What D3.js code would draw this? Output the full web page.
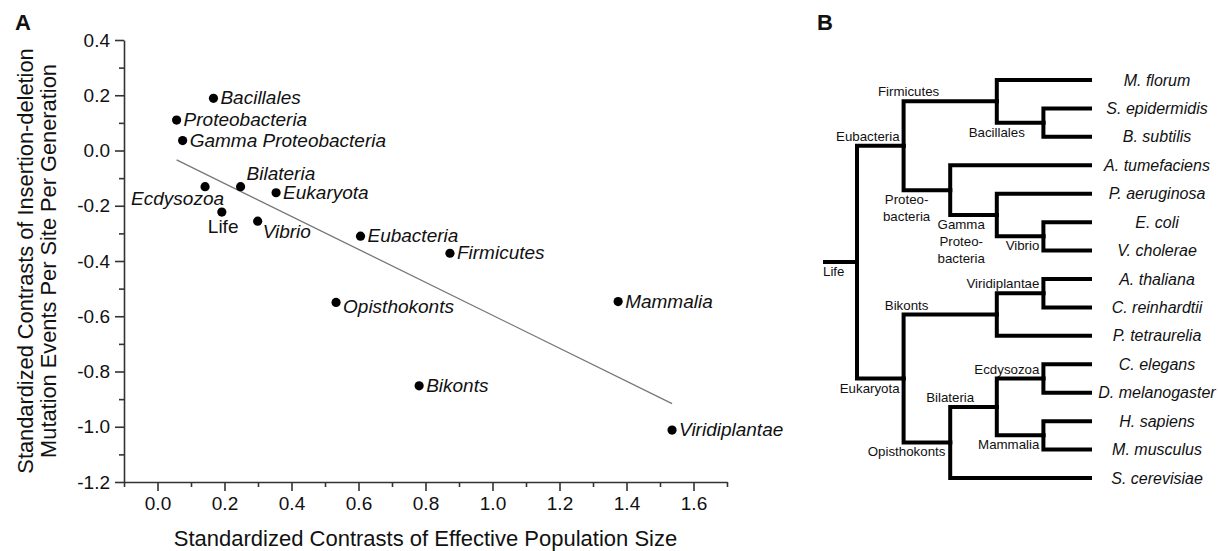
<!DOCTYPE html>
<html>
<head>
<meta charset="utf-8">
<script src="https://cdn.jsdelivr.net/npm/d3@7"></script>
<style>
  body { margin: 0; background: #fff; }
  svg { display: block; font-family: "Liberation Sans", Arial, sans-serif; }
</style>
</head>
<body>
<div id="chart"></div>
<script>
// Data

    // panel A: contrasts (x = effective population size, y = indel rate)
    var taxa = ["Bacillales", "Proteobacteria", "Gamma Proteobacteria", "Ecdysozoa", "Bilateria",
                "Eukaryota", "Life", "Vibrio", "Eubacteria", "Firmicutes",
                "Opisthokonts", "Mammalia", "Bikonts", "Viridiplantae"];
    var contrastNe    = [0.167, 0.057, 0.075, 0.142, 0.248, 0.354, 0.192, 0.299, 0.606, 0.873, 0.533, 1.375, 0.781, 1.536];
    var contrastIndel = [0.189, 0.110, 0.036, -0.131, -0.131, -0.153, -0.223, -0.256, -0.310, -0.372, -0.550, -0.547, -0.852, -1.012];

    var xTicks = [0.0, 0.2, 0.4, 0.6, 0.8, 1.0, 1.2, 1.4, 1.6];
    var yTicks = [0.4, 0.2, 0.0, -0.2, -0.4, -0.6, -0.8, -1.0, -1.2];

    // panel B: tree as [child, parent]
    var treeEdges = [
        ["Life", ""],
        ["Eubacteria", "Life"],
        ["Firmicutes", "Eubacteria"],
        ["M. florum", "Firmicutes"],
        ["Bacillales", "Firmicutes"],
        ["S. epidermidis", "Bacillales"],
        ["B. subtilis", "Bacillales"],
        ["Proteobacteria", "Eubacteria"],
        ["A. tumefaciens", "Proteobacteria"],
        ["Gamma Proteobacteria", "Proteobacteria"],
        ["P. aeruginosa", "Gamma Proteobacteria"],
        ["Vibrio", "Gamma Proteobacteria"],
        ["E. coli", "Vibrio"],
        ["V. cholerae", "Vibrio"],
        ["Eukaryota", "Life"],
        ["Bikonts", "Eukaryota"],
        ["Viridiplantae", "Bikonts"],
        ["A. thaliana", "Viridiplantae"],
        ["C. reinhardtii", "Viridiplantae"],
        ["P. tetraurelia", "Bikonts"],
        ["Opisthokonts", "Eukaryota"],
        ["Bilateria", "Opisthokonts"],
        ["Ecdysozoa", "Bilateria"],
        ["C. elegans", "Ecdysozoa"],
        ["D. melanogaster", "Ecdysozoa"],
        ["Mammalia", "Bilateria"],
        ["H. sapiens", "Mammalia"],
        ["M. musculus", "Mammalia"],
        ["S. cerevisiae", "Opisthokonts"]
    ];
    var nodeLabelLines = {
        "Proteobacteria": ["Proteo-", "bacteria"],
        "Gamma Proteobacteria": ["Gamma", "Proteo-", "bacteria"]
    };


// Layout (kept apart from the data)

    var svgWidth = 1219, svgHeight = 551;
    var textColor = "#111";

    // point label offsets, default is right of the dot
    var ptLabel = {
        "Ecdysozoa":    { dx: 19, dy: 18, anchor: "end" },
        "Life":         { dx: -14, dy: 21, upright: true },
        "Bilateria":    { dx: 6, dy: -7 },
        "Vibrio":       { dx: 5, dy: 17 },
        "Opisthokonts": { dx: 7, dy: 11 }
    };

    // tree label placement: "end" = right aligned before own vertical, "mid" = centred near parent vertical
    var treeLabel = {
        "Life":                 { mode: "start", side: "below" },
        "Eubacteria":           { mode: "end", side: "above" },
        "Firmicutes":           { mode: "mid", side: "above", dx: 5 },
        "Bacillales":           { mode: "mid", side: "below", dx: 0 },
        "Proteobacteria":       { mode: "mid", side: "below", dx: 3 },
        "Gamma Proteobacteria": { mode: "mid", side: "below", dx: 11 },
        "Vibrio":               { mode: "end", side: "below" },
        "Eukaryota":            { mode: "end", side: "below" },
        "Bikonts":              { mode: "mid", side: "above", dx: 3 },
        "Viridiplantae":        { mode: "end", side: "above" },
        "Opisthokonts":         { mode: "mid", side: "below", dx: 3 },
        "Bilateria":            { mode: "mid", side: "above", dx: 0 },
        "Ecdysozoa":            { mode: "end", side: "above" },
        "Mammalia":             { mode: "end", side: "below" }
    };


// Start of SVG

    var svg = d3.select("#chart")
        .append("svg")
            .attr("width", svgWidth)
            .attr("height", svgHeight);

    // panel letters
    svg.append("text").attr("x", 15).attr("y", 30).text("A")
        .attr("font-size", 22).attr("font-weight", "bold").attr("fill", textColor);
    svg.append("text").attr("x", 817).attr("y", 30).text("B")
        .attr("font-size", 22).attr("font-weight", "bold").attr("fill", textColor);


// Panel A

    var x = d3.scaleLinear().domain([-0.1, 1.7]).range([124, 727]);
    var y = d3.scaleLinear().domain([-1.2, 0.4]).range([482, 40]);

    var minorX = d3.range(-1, 18, 2).map(function(d) { return d / 10; });
    var minorY = d3.range(-11, 4, 2).map(function(d) { return d / 10; });

    var fmt = function(d) { return d.toFixed(1); };

    // X axis (major + minor)
    var gx = svg.append("g").attr("transform", "translate(0," + y(-1.2) + ")");
    gx.call(d3.axisBottom(x).tickValues(xTicks).tickFormat(fmt).tickSize(9).tickPadding(6).tickSizeOuter(0));
    gx.append("g").call(d3.axisBottom(x).tickValues(minorX).tickFormat("").tickSize(5).tickSizeOuter(0))
        .select(".domain").remove();

    // Y axis (major + minor)
    var gy = svg.append("g").attr("transform", "translate(" + x(-0.1) + ",0)");
    gy.call(d3.axisLeft(y).tickValues(yTicks).tickFormat(fmt).tickSize(9).tickPadding(5).tickSizeOuter(0));
    gy.append("g").call(d3.axisLeft(y).tickValues(minorY).tickFormat("").tickSize(5).tickSizeOuter(0))
        .select(".domain").remove();

    svg.selectAll(".domain, .tick line").attr("stroke", "#333").attr("stroke-width", 1.6);
    svg.selectAll(".tick text").attr("font-size", 19).attr("fill", textColor)
        .attr("font-family", "Liberation Sans, Arial, sans-serif");

    // axis titles
    svg.append("text")
        .attr("x", (x(-0.1) + x(1.7)) / 2).attr("y", 546)
        .attr("text-anchor", "middle").attr("font-size", 22).attr("fill", textColor)
        .text("Standardized Contrasts of Effective Population Size");

    var yTitle = svg.append("text")
        .attr("transform", "translate(0," + (y(-1.2) + y(0.4)) / 2 + ") rotate(-90)")
        .attr("text-anchor", "middle").attr("font-size", 21.8).attr("fill", textColor);
    yTitle.append("tspan").attr("x", 0).attr("y", 33).text("Standardized Contrasts of Insertion-deletion");
    yTitle.append("tspan").attr("x", 0).attr("y", 56).text("Mutation Events Per Site Per Generation");

    // regression through the origin, drawn over the range of the data
    var points = taxa.map(function(t, i) { return { name: t, ne: contrastNe[i], indel: contrastIndel[i] }; });
    var slope = d3.sum(points, function(d) { return d.ne * d.indel; }) /
                d3.sum(points, function(d) { return d.ne * d.ne; });
    var xExt = d3.extent(contrastNe);

    svg.append("line")
        .attr("x1", x(xExt[0])).attr("y1", y(slope * xExt[0]))
        .attr("x2", x(xExt[1])).attr("y2", y(slope * xExt[1]))
        .attr("stroke", "#777").attr("stroke-width", 1.3);

    svg.selectAll(".dot")
        .data(points)
        .enter()
            .append("circle")
                .attr("class", "dot")
                .attr("cx", function(d) { return x(d.ne); })
                .attr("cy", function(d) { return y(d.indel); })
                .attr("r", 4.6)
                .attr("fill", "#000");

    svg.selectAll(".ptlabel")
        .data(points)
        .enter()
            .append("text")
                .attr("class", "ptlabel")
                .attr("x", function(d) { var o = ptLabel[d.name] || {}; return x(d.ne) + (o.dx !== undefined ? o.dx : 7); })
                .attr("y", function(d) { var o = ptLabel[d.name] || {}; return y(d.indel) + (o.dy !== undefined ? o.dy : 6); })
                .attr("text-anchor", function(d) { var o = ptLabel[d.name] || {}; return o.anchor || "start"; })
                .attr("font-style", function(d) { var o = ptLabel[d.name] || {}; return o.upright ? "normal" : "italic"; })
                .attr("font-size", 19)
                .attr("fill", textColor)
                .text(function(d) { return d.name; });


// Panel B

    var root = d3.stratify()
        .id(function(d) { return d[0]; })
        .parentId(function(d) { return d[1] || null; })
        (treeEdges);

    var leafDepth = 5;
    var leaves = root.leaves();

    var tx = d3.scaleLinear().domain([0, leafDepth]).range([857, 1090]);
    var ty = d3.scaleLinear().domain([0, leaves.length - 1]).range([80, 478]);

    leaves.forEach(function(d, i) { d.row = i; });

    // internal nodes sit one step left of their shallowest child, and mid-way between first and last child
    root.eachAfter(function(d) {
        if (!d.children) {
            d.level = leafDepth;
            d.py = ty(d.row);
        } else {
            d.level = d3.min(d.children, function(c) { return c.level; }) - 1;
            d.py = (d.children[0].py + d.children[d.children.length - 1].py) / 2;
        }
        d.px = tx(d.level);
    });

    var tree = svg.append("g");

    // root stub
    tree.append("line")
        .attr("x1", root.px - 34).attr("x2", root.px)
        .attr("y1", root.py).attr("y2", root.py)
        .attr("stroke", "#000").attr("stroke-width", 4);

    tree.selectAll(".branch")
        .data(root.links())
        .enter()
            .append("path")
                .attr("class", "branch")
                .attr("d", function(l) {
                    return "M" + l.source.px + "," + l.source.py +
                           "V" + l.target.py + "H" + l.target.px;
                })
                .attr("fill", "none")
                .attr("stroke", "#000")
                .attr("stroke-width", 4)
                .attr("stroke-linejoin", "miter")
                .attr("stroke-linecap", "square");

    // leaf names
    tree.selectAll(".leaf")
        .data(leaves)
        .enter()
            .append("text")
                .attr("class", "leaf")
                .attr("x", 1157)
                .attr("y", function(d) { return d.py + 5.5; })
                .attr("text-anchor", "middle")
                .attr("font-style", "italic")
                .attr("font-size", 16)
                .attr("fill", textColor)
                .text(function(d) { return d.id; });

    // clade names
    var internal = root.descendants().filter(function(d) { return d.children; });

    tree.selectAll(".clade")
        .data(internal)
        .enter()
            .append("text")
                .attr("class", "clade")
                .attr("font-size", 13.3)
                .attr("fill", textColor)
                .each(function(d) {
                    var o = treeLabel[d.id];
                    var startX = d.parent ? d.parent.px : d.px - 34;
                    var lx, anchor;
                    if (o.mode === "end")   { lx = d.px - 4; anchor = "end"; }
                    else if (o.mode === "mid") { lx = startX + o.dx; anchor = "middle"; }
                    else { lx = startX; anchor = "start"; }
                    var lines = nodeLabelLines[d.id] || [d.id];
                    var y0 = o.side === "above" ? d.py - 5 - (lines.length - 1) * 17 : d.py + 14;
                    var t = d3.select(this).attr("text-anchor", anchor);
                    lines.forEach(function(s, i) {
                        t.append("tspan").attr("x", lx).attr("y", y0 + i * 17).text(s);
                    });
                });
</script>
</body>
</html>
